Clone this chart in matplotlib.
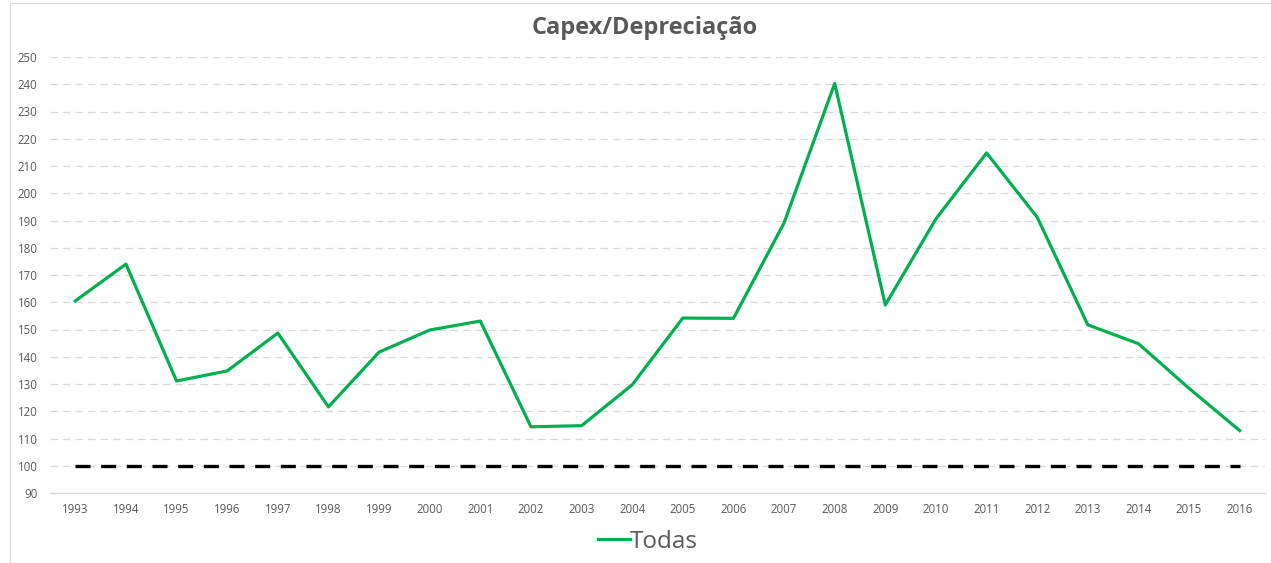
import matplotlib.pyplot as plt
from matplotlib.lines import Line2D

plt.rcParams['font.family'] = ['Open Sans', 'DejaVu Sans']

# Dados
anos = list(range(1993, 2017))
todas = [160.5, 174.0, 131.1, 134.8, 148.7, 121.6, 141.7, 149.8, 153.1, 114.3,
         114.7, 129.7, 154.2, 154.1, 189.1, 240.3, 159.0, 190.6, 214.8, 191.2,
         151.7, 144.8, 128.4, 112.9]
referencia = [100] * len(anos)
y_ticks = list(range(90, 251, 10))

cinza = '#595959'

fig = plt.figure(figsize=(12.71, 5.63), dpi=100)
ax = fig.add_axes([50 / 1271, 1 - 493 / 563, 1215 / 1271, 436 / 563])

# Moldura externa do gráfico
fig.add_artist(Line2D([10 / 1271, 10 / 1271], [0, 1 - 3 / 563],
                      color='#d9d9d9', linewidth=0.8, transform=fig.transFigure))
fig.add_artist(Line2D([10 / 1271, 1], [1 - 3 / 563, 1 - 3 / 563],
                      color='#d9d9d9', linewidth=0.8, transform=fig.transFigure))

# Grade
for v in y_ticks[1:]:
    ax.axhline(v, color='#d9d9d9', linewidth=0.9, dashes=(6, 4), zorder=0)

ax.plot(anos, referencia, color='black', linewidth=2.4, dashes=(4.5, 3.2), zorder=2)
ax.plot(anos, todas, color='#00B050', linewidth=2.3, label='Todas', zorder=3)

ax.set_xlim(1992.5, 2016.5)
ax.set_ylim(90, 250)
ax.set_xticks(anos)
ax.set_yticks(y_ticks)
ax.tick_params(axis='both', length=0, labelsize=8.3, colors=cinza, pad=7)
ax.tick_params(axis='y', pad=9)

for lado in ['top', 'right', 'left']:
    ax.spines[lado].set_visible(False)
ax.spines['bottom'].set_color('#d9d9d9')
ax.spines['bottom'].set_linewidth(1)

fig.text(645 / 1271, 1 - 28 / 563, 'Capex/Depreciação', ha='center', va='center',
         fontsize=17, fontweight='bold', color=cinza)

handle = Line2D([], [], color='#00B050', linewidth=2.3)
leg = fig.legend([handle], ['Todas'], loc='center', bbox_to_anchor=(648 / 1271, 1 - 542 / 563),
                 frameon=False, fontsize=17.5, handlelength=1.3, handletextpad=0.0,
                 labelcolor=cinza)

fig.savefig('out.png', dpi=100)
